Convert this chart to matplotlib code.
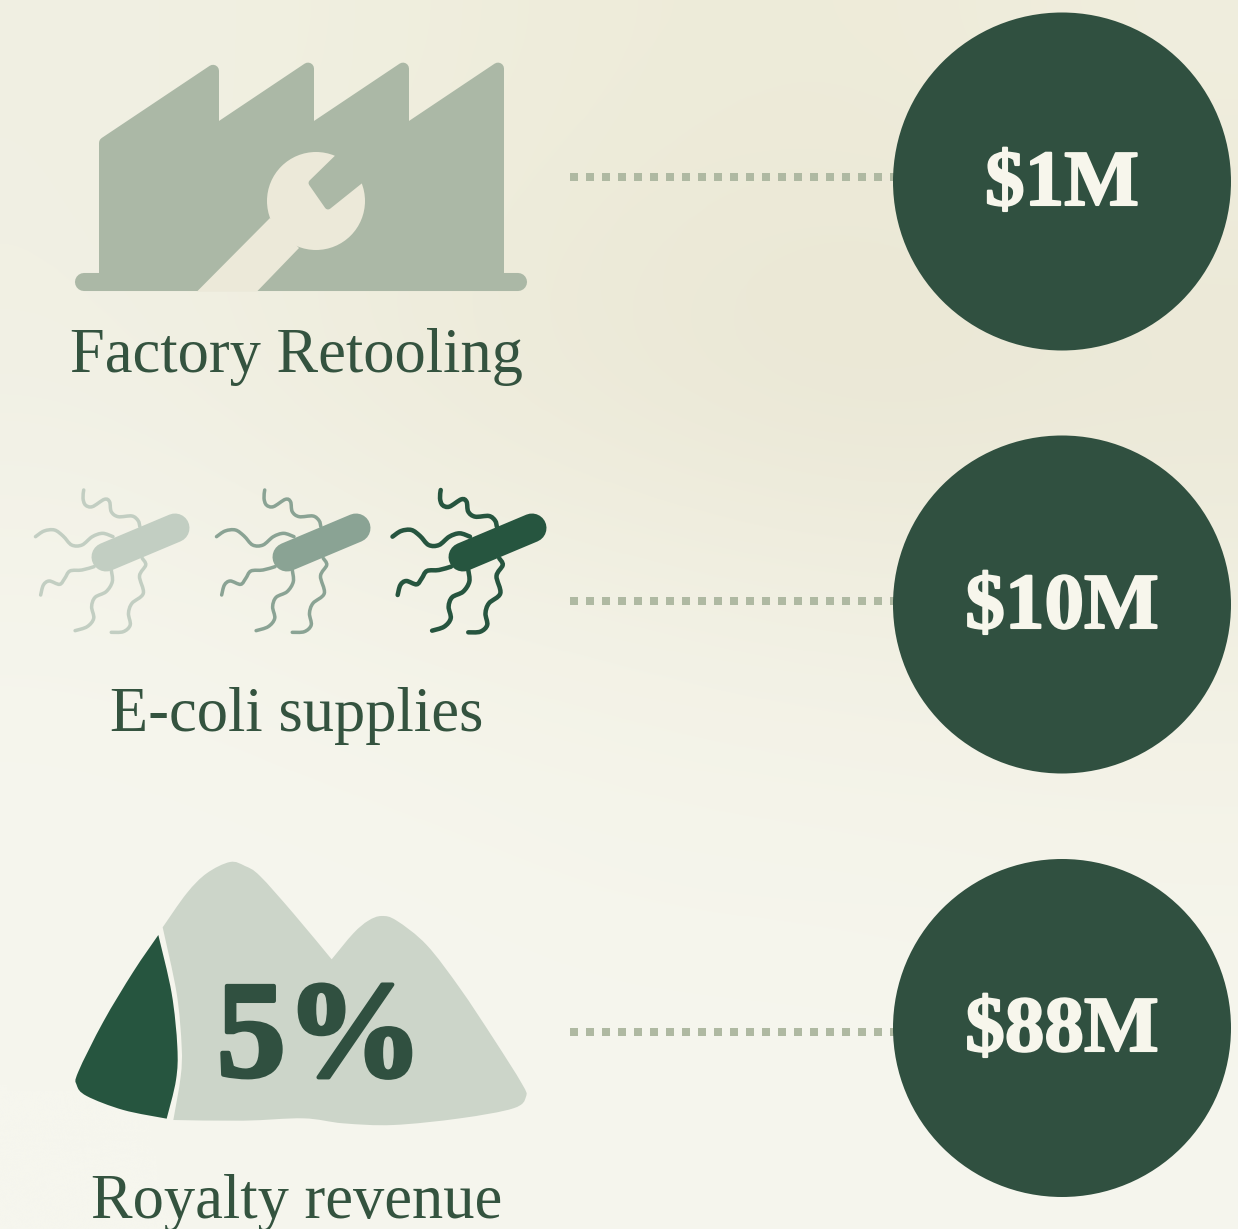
import numpy as np
import matplotlib
matplotlib.use("Agg")
import matplotlib.pyplot as plt
import matplotlib.patheffects as pe
from matplotlib.colors import to_rgb
from matplotlib.patches import Circle, PathPatch
from matplotlib.path import Path

# chart content
labels = ["Factory Retooling", "E-coli supplies", "Royalty revenue"]
amounts = ["$1M", "$10M", "$88M"]
royalty_text = "5%"

# where things sit, in pixels of the picture
circle_y = [181.5, 604.5, 1028]
dots_y = [176.7, 600.7, 1031.5]
label_base = [372, 731, 1218]
amount_base = [205, 628, 1051]
bact_shift = [0, 181, 357]
bact_colors = ["#c2cec2", "#8aa394", "#26553f"]
bact_lw = [3.5, 3.5, 4.5]

bg_rows = [
    ["#f1f0e3", "#f0efdf", "#eeecda", "#eeebd9", "#f0eede"],
    ["#f1f0e4", "#eeecdc", "#ebe8d6", "#e8e5d2", "#eae7d5"],
    ["#f5f5ec", "#f4f3e8", "#f3f2e5", "#f2f0e3", "#f1f0e2"],
    ["#f6f6ee", "#f6f6ee", "#f5f5ec", "#f5f5ec", "#f5f4ea"],
    ["#f6f6ee", "#f6f6ee", "#f6f6ee", "#f6f6ee", "#f6f6ee"],
]

dark = "#305040"
dark_icon = "#26553f"
factory_col = "#abb8a6"
mountain_col = "#ccd5c9"
dot_col = "#afb9a2"
hole_col = "#ece9d9"
text_col = "#34533f"
amount_col = "#f7f6ec"
serif = "Liberation Serif"


def smooth(points):
    # catmull-rom through the points, returned as bezier pieces
    p = np.array(points, dtype=float)
    p = np.vstack([p[0], p, p[-1]])
    verts = []
    for i in range(1, len(p) - 2):
        verts.append(p[i] + (p[i + 1] - p[i - 1]) / 6)
        verts.append(p[i + 1] - (p[i + 2] - p[i]) / 6)
        verts.append(p[i + 1])
    return verts


def shape(sections, x0, y0, sx=1 / 3, sy=1 / 3):
    # every section is smooth, the corners are where two sections meet
    verts = [sections[0][0]]
    codes = [Path.MOVETO]
    for sec in sections:
        piece = smooth(sec)
        verts += piece
        codes += [Path.CURVE4] * len(piece)
    verts = np.array(verts, dtype=float) * [sx, sy] + [x0, y0]
    return Path(verts, codes)


fig = plt.figure(figsize=(12.38, 12.29), dpi=100)
ax = fig.add_axes([0, 0, 1, 1])
bg = np.array([[to_rgb(c) for c in row] for row in bg_rows])
ax.imshow(bg, extent=(0, 1238, 1229, 0), interpolation="bicubic", aspect="auto", zorder=0)
ax.set_xlim(0, 1238)
ax.set_ylim(1229, 0)
ax.axis("off")

# factory, inset a little because the stroke rounds the outer corners
factory = [(105, 143), (213, 70.8), (213, 132.2), (308, 68.6), (308, 132.2), (403, 68.6), (403, 132.2),
           (498, 68.6), (498, 285), (105, 285)]
ax.fill(*zip(*factory), facecolor=factory_col, edgecolor=factory_col, lw=12 * 0.72,
        joinstyle="round", zorder=2)
ax.plot([84, 518], [282, 282], color=factory_col, lw=13, solid_capstyle="round", zorder=2)

# wrench cut out of it
ax.add_patch(Circle((316, 201), 49, color=hole_col, lw=0, zorder=3))
ax.fill([270, 197, 257, 299], [218, 291.5, 291.5, 248], color=hole_col, lw=0, zorder=3)
ax.fill([354, 312, 328, 378], [142, 183, 206, 166], facecolor=factory_col, edgecolor=factory_col,
        lw=5, joinstyle="round", zorder=4)

# bacteria
flagella = [
    [(185, 60), (183, 85), (190, 105), (210, 110), (245, 88), (260, 95), (265, 125), (285, 140), (325, 138),
     (343, 152), (348, 170)],
    [(45, 200), (70, 183), (100, 180), (125, 198), (150, 225), (180, 225), (210, 200), (240, 190), (270, 200)],
    [(60, 375), (68, 345), (85, 333), (115, 343), (130, 325), (145, 303), (180, 300), (215, 290)],
    [(265, 300), (268, 335), (250, 365), (218, 382), (208, 410), (214, 445), (195, 470), (160, 482)],
    [(355, 265), (365, 285), (347, 318), (358, 370), (325, 400), (315, 430), (320, 465), (300, 485), (265, 487)],
]
for shift, col, w in zip(bact_shift, bact_colors, bact_lw):
    ax.plot([106 + shift, 175 + shift], [557, 528], color=col, lw=29 * 0.72,
            solid_capstyle="round", zorder=3)
    for fl in flagella:
        ax.add_patch(PathPatch(shape([fl], 20 + shift, 470, 0.3444), fc="none", ec=col,
                               lw=w * 0.72, capstyle="round", zorder=2))

# mountain
light = shape([
    [(308, 232), (380, 130), (440, 70), (510, 36), (555, 48), (600, 78), (700, 190), (815, 328)],
    [(815, 328), (880, 250), (925, 212), (965, 198), (1010, 212), (1100, 285), (1200, 415), (1300, 565),
     (1385, 700), (1398, 740), (1360, 775), (1200, 805), (1000, 825), (850, 820), (730, 805), (550, 812),
     (340, 810)],
    [(340, 810), (362, 680), (365, 590), (350, 430), (308, 232)],
], 60, 850)
ax.add_patch(PathPatch(light, fc=mountain_col, ec="none", zorder=2))
shard = shape([
    [(295, 255), (220, 365), (130, 515), (55, 665), (50, 705), (80, 738), (190, 780), (320, 806)],
    [(320, 806), (348, 690), (352, 590), (335, 430), (295, 255)],
], 60, 850)
ax.add_patch(PathPatch(shard, fc=dark_icon, ec="none", zorder=3))
ax.text(320, 1076, royalty_text, family=serif, weight="bold", fontsize=99, color=dark,
        ha="center", va="baseline", zorder=4,
        path_effects=[pe.withStroke(linewidth=3, foreground=dark)])

# labels, dotted leaders and circles
for i in range(3):
    ax.text(297, label_base[i], labels[i], family=serif, fontsize=45, color=text_col,
            ha="center", va="baseline", zorder=5)
    ax.plot([570, 895], [dots_y[i], dots_y[i]], color=dot_col, lw=8 * 0.72,
            linestyle=(0, (1, 1)), dash_capstyle="butt", zorder=2)
    ax.add_patch(Circle((1062, circle_y[i]), 169, color=dark, lw=0, zorder=3))
    ax.text(1062, amount_base[i], amounts[i], family=serif, weight="bold", fontsize=57,
            color=amount_col, ha="center", va="baseline", zorder=5,
            path_effects=[pe.withStroke(linewidth=1.5, foreground=amount_col)])

fig.savefig("out.png", dpi=100)
